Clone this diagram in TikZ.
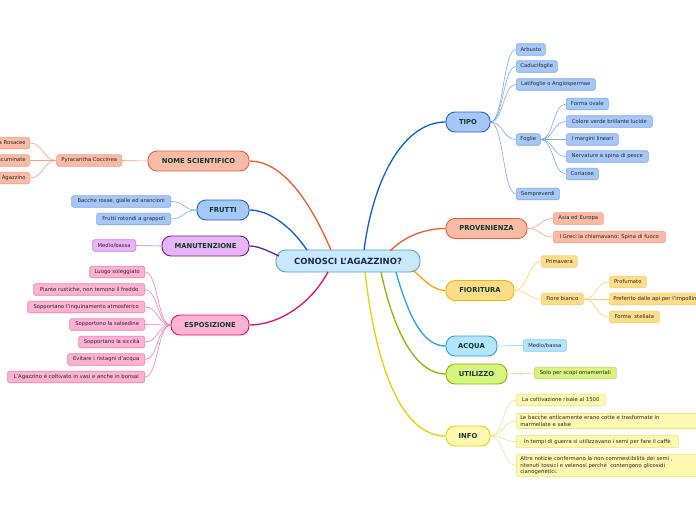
\documentclass[tikz,border=0pt]{standalone}
\usepackage{fontspec}
\setmainfont{DejaVu Sans}
\definecolor{cfill}{HTML}{C8E9FB}
\definecolor{cborder}{HTML}{5A9FD6}
\definecolor{ctext}{HTML}{1B2B4B}
\definecolor{maintext}{HTML}{0D3B2A}
\definecolor{leaftext}{HTML}{262626}
\definecolor{bfill}{HTML}{A6C8F8}
\definecolor{bborder}{HTML}{1F64C8}
\definecolor{bleaf}{HTML}{7FA9EE}
\definecolor{bline}{HTML}{0A5FD0}
\definecolor{sfill}{HTML}{F9BBA6}
\definecolor{sborder}{HTML}{E8603C}
\definecolor{sleaf}{HTML}{F5A080}
\definecolor{sline}{HTML}{F05A28}
\definecolor{yfill}{HTML}{FEDD8A}
\definecolor{yborder}{HTML}{F5B400}
\definecolor{yleaf}{HTML}{FCCF6A}
\definecolor{yline}{HTML}{F5A800}
\definecolor{afill}{HTML}{B3E5FC}
\definecolor{aborder}{HTML}{1EA7E0}
\definecolor{aleaf}{HTML}{7ED0F5}
\definecolor{gfill}{HTML}{D6F47E}
\definecolor{gborder}{HTML}{8CB800}
\definecolor{gleaf}{HTML}{B8E060}
\definecolor{ifill}{HTML}{FFF8B0}
\definecolor{iborder}{HTML}{E6D200}
\definecolor{ileaf}{HTML}{F2E47A}
\definecolor{vfill}{HTML}{E8B6F6}
\definecolor{vborder}{HTML}{6A2288}
\definecolor{vleaf}{HTML}{C880E0}
\definecolor{pfill}{HTML}{FFB2D2}
\definecolor{pborder}{HTML}{E0106A}
\definecolor{pleaf}{HTML}{F27FB2}
\newcommand\mmR[3][]{\draw[#1] (#2.east) .. controls +(13,0) and +(-13,0) .. (#3.west);}
\newcommand\mmL[3][]{\draw[#1] (#2.west) .. controls +(-13,0) and +(13,0) .. (#3.east);}
\begin{document}
\begin{tikzpicture}[x=1pt,y=-1pt,
  central/.style={draw=cborder, fill=cfill, line width=0.9pt, rounded corners=10pt, minimum height=22pt, inner sep=0pt, font=\fontsize{8.5}{10}\selectfont\bfseries, text=ctext},
  mainbox/.style={draw, line width=0.9pt, rounded corners=9pt, minimum height=20pt, inner sep=0pt, font=\fontsize{6.8}{8}\selectfont\bfseries, text=maintext},
  leaf/.style={draw, line width=0.6pt, rounded corners=1.5pt, minimum height=11.5pt, inner xsep=4pt, inner ysep=0pt, font=\fontsize{5.3}{6.3}\selectfont, text=leaftext},
  multi/.style={leaf, align=left, inner ysep=2.3pt, text width=190pt},
  trunk/.style={line width=1.3pt},
  twig/.style={line width=0.6pt},
  blueset/.style={fill=bfill, draw=bleaf}, bluetw/.style={twig, draw=bleaf},
  salset/.style={fill=sfill, draw=sleaf}, saltw/.style={twig, draw=sleaf},
  yelset/.style={fill=yfill, draw=yleaf}, yeltw/.style={twig, draw=yleaf},
  aquset/.style={fill=afill, draw=aleaf}, aqutw/.style={twig, draw=aleaf},
  greset/.style={fill=gfill, draw=gleaf}, gretw/.style={twig, draw=gleaf},
  infset/.style={fill=ifill, draw=ileaf}, inftw/.style={twig, draw=ileaf},
  vioset/.style={fill=vfill, draw=vleaf}, viotw/.style={twig, draw=vleaf},
  pinset/.style={fill=pfill, draw=pleaf}, pintw/.style={twig, draw=pleaf}]
\useasboundingbox (0,0) rectangle (696,520);
\clip (0,0) rectangle (696,520);
\fill[white] (0,0) rectangle (696,520);

% central node
\node[central, minimum width=144pt] (c) at (348,261) {CONOSCI L'AGAZZINO?};

% main topics
\node[mainbox, fill=bfill, draw=bborder, minimum width=44pt] (tipo) at (468,122) {TIPO};
\node[mainbox, fill=sfill, draw=sborder, minimum width=81pt] (prov) at (486.5,228.5) {PROVENIENZA};
\node[mainbox, fill=yfill, draw=yborder, minimum width=68pt] (fior) at (480,290.5) {FIORITURA};
\node[mainbox, fill=afill, draw=aborder, minimum width=51pt] (acqua) at (471.5,346) {ACQUA};
\node[mainbox, fill=gfill, draw=gborder, minimum width=61pt] (util) at (476.5,374) {UTILIZZO};
\node[mainbox, fill=ifill, draw=iborder, minimum width=44pt] (info) at (468,436) {INFO};
\node[mainbox, fill=sfill, draw=sborder, minimum width=101pt] (nome) at (198.5,161) {NOME SCIENTIFICO};
\node[mainbox, fill=bfill, draw=bborder, minimum width=52pt] (frutti) at (223,210) {FRUTTI};
\node[mainbox, fill=vfill, draw=vborder, minimum width=87pt] (manu) at (205.5,246) {MANUTENZIONE};
\node[mainbox, fill=pfill, draw=pborder, minimum width=78pt] (espo) at (210,325) {ESPOSIZIONE};

% trunk anchors on the central node
\coordinate (sTipo) at (364,250);
\coordinate (sProv) at (390,251);
\coordinate (sFior) at (413,270);
\coordinate (sAcq) at (396,272);
\coordinate (sUti) at (381,272);
\coordinate (sInf) at (365,272);
\coordinate (sNom) at (331,250);
\coordinate (sFru) at (307,250);
\coordinate (sMan) at (279,256);
\coordinate (sEsp) at (328,272);

\draw[trunk, draw=bline] (sTipo) .. controls (374,175) and (405,122) .. (tipo.west);
\draw[trunk, draw=sline] (sProv) .. controls (405,236) and (425,228.5) .. (prov.west);
\draw[trunk, draw=yline] (sFior) .. controls (426,282) and (434,290.5) .. (fior.west);
\draw[trunk, draw=aborder] (sAcq) .. controls (410,322) and (425,346) .. (acqua.west);
\draw[trunk, draw=gborder] (sUti) .. controls (396,342) and (420,374) .. (util.west);
\draw[trunk, draw=iborder] (sInf) .. controls (378,385) and (408,436) .. (info.west);
\draw[trunk, draw=sline] (sNom) .. controls (303,185) and (275,161) .. (nome.east);
\draw[trunk, draw=bline] (sFru) .. controls (290,225) and (268,210) .. (frutti.east);
\draw[trunk, draw=vborder] (sMan) .. controls (266,250) and (258,246) .. (manu.east);
\draw[trunk, draw=pborder] (sEsp) .. controls (310,305) and (278,325) .. (espo.east);

% TIPO leaves
\node[leaf, blueset, anchor=west, minimum width=29pt] (arb) at (516,49.5) {Arbusto};
\node[leaf, blueset, anchor=west, minimum width=41pt] (cad) at (516,66.5) {Caducifoglie};
\node[leaf, blueset, anchor=west, minimum width=79pt] (lat) at (516,84.5) {Latifoglie o Angiospermae};
\node[leaf, blueset, anchor=west, minimum width=24pt] (fog) at (516,139.5) {Foglie};
\node[leaf, blueset, anchor=west, minimum width=43pt] (semp) at (516,194) {Sempreverdi};
\node[leaf, blueset, anchor=west, minimum width=42pt] (f1) at (566,104) {Forma ovale};
\node[leaf, blueset, anchor=west, minimum width=86pt] (f2) at (566,121.5) {Colore verde brillante lucide};
\node[leaf, blueset, anchor=west, minimum width=52pt] (f3) at (566,139.5) {I margini lineari};
\node[leaf, blueset, anchor=west, minimum width=82pt] (f4) at (566,156.5) {Nervature a spina di pesce};
\node[leaf, blueset, anchor=west, minimum width=32pt] (f5) at (566,174) {Coriacee};
\foreach \n in {arb,cad,lat,fog,semp}{\mmR[bluetw]{tipo}{\n}}
\foreach \n in {f1,f2,f3,f4,f5}{\mmR[bluetw]{fog}{\n}}

% PROVENIENZA
\node[leaf, salset, anchor=west, minimum width=50pt] (p1) at (553,218.5) {Asia ed Europa};
\node[leaf, salset, anchor=west, minimum width=112pt] (p2) at (553,237) {I Greci la chiamavano: Spina di fuoco};
\foreach \n in {p1,p2}{\mmR[saltw]{prov}{\n}}

% FIORITURA
\node[leaf, yelset, anchor=west, minimum width=36pt] (fi1) at (541,261.5) {Primavera};
\node[leaf, yelset, anchor=west, minimum width=42pt] (fi2) at (541,299) {Fiore bianco};
\node[leaf, yelset, anchor=west, minimum width=37pt] (fb1) at (609,282) {Profumato};
\node[leaf, yelset, anchor=west] (fb2) at (609,299) {Preferito dalle api per l'impollinazione};
\node[leaf, yelset, anchor=west, minimum width=50pt] (fb3) at (609,317) {Forma\ \ stellata};
\foreach \n in {fi1,fi2}{\mmR[yeltw]{fior}{\n}}
\foreach \n in {fb1,fb2,fb3}{\mmR[yeltw]{fi2}{\n}}

% ACQUA
\node[leaf, aquset, anchor=west, minimum width=43pt] (a1) at (523,345.5) {Medio/bassa};
\mmR[aqutw]{acqua}{a1}

% UTILIZZO
\node[leaf, greset, anchor=west, minimum width=82pt] (u1) at (534,373) {Solo per scopi ornamentali};
\mmR[gretw]{util}{u1}

% INFO
\node[leaf, infset, anchor=west, minimum width=89pt] (i1) at (516,400) {La coltivazione risale al 1500};
\node[multi, infset, anchor=west] (i2) at (516,421) {Le bacche anticamente erano cotte e trasformate in\\marmellate e salse};
\node[leaf, infset, anchor=west, minimum width=162pt, minimum height=12.5pt] (i3) at (516,441.5) {In tempi di guerra si utilizzavano i semi per fare il caffè};
\node[multi, infset, anchor=west] (i4) at (516,465.5) {Altre notizie confermano la non commestibilità dei semi ,\\ritenuti tossici e velenosi perché\ \ contengono glicosidi\\cianogenetici.};
\foreach \n in {i1,i2,i3,i4}{\mmR[inftw]{info}{\n}}

% NOME SCIENTIFICO
\node[leaf, salset, anchor=east, minimum width=65pt] (py) at (122,160.5) {Pyracantha Coccinea};
\node[leaf, salset, anchor=east] (n1) at (30,143) {Famiglia Rosacee};
\node[leaf, salset, anchor=east] (n2) at (30,160.5) {Foglie acuminate};
\node[leaf, salset, anchor=east] (n3) at (30,178) {Nome comune: Agazzino};
\mmL[saltw]{nome}{py}
\foreach \n in {n1,n2,n3}{\mmL[saltw]{py}{\n}}

% FRUTTI
\node[leaf, blueset, anchor=east, minimum width=99pt] (fr1) at (171,201.5) {Bacche rosse, gialle ed arancioni};
\node[leaf, blueset, anchor=east, minimum width=74pt] (fr2) at (171,219) {Frutti rotondi a grappoli};
\foreach \n in {fr1,fr2}{\mmL[bluetw]{frutti}{\n}}

% MANUTENZIONE
\node[leaf, vioset, anchor=east, minimum width=43pt] (m1) at (136,245.5) {Medio/bassa};
\mmL[viotw]{manu}{m1}

% ESPOSIZIONE
\node[leaf, pinset, anchor=east, minimum width=55pt] (e1) at (145,272) {Luogo soleggiato};
\node[leaf, pinset, anchor=east, minimum width=111pt] (e2) at (145,289.5) {Piante rustiche, non temono il freddo};
\node[leaf, pinset, anchor=east, minimum width=117pt] (e3) at (145,307) {Sopportano l'inquinamento atmosferico};
\node[leaf, pinset, anchor=east, minimum width=75pt] (e4) at (145,324.5) {Sopportono la salsedine};
\node[leaf, pinset, anchor=east, minimum width=66pt] (e5) at (145,342) {Sopportano la siccità};
\node[leaf, pinset, anchor=east, minimum width=77pt] (e6) at (145,359.5) {Evitare i ristagni d'acqua};
\node[leaf, pinset, anchor=east, minimum width=137pt] (e7) at (145,377) {L'Agazzino è coltivato in vasi e anche in bonsai};
\foreach \n in {e1,e2,e3,e4,e5,e6,e7}{\mmL[pintw]{espo}{\n}}
\end{tikzpicture}
\end{document}
